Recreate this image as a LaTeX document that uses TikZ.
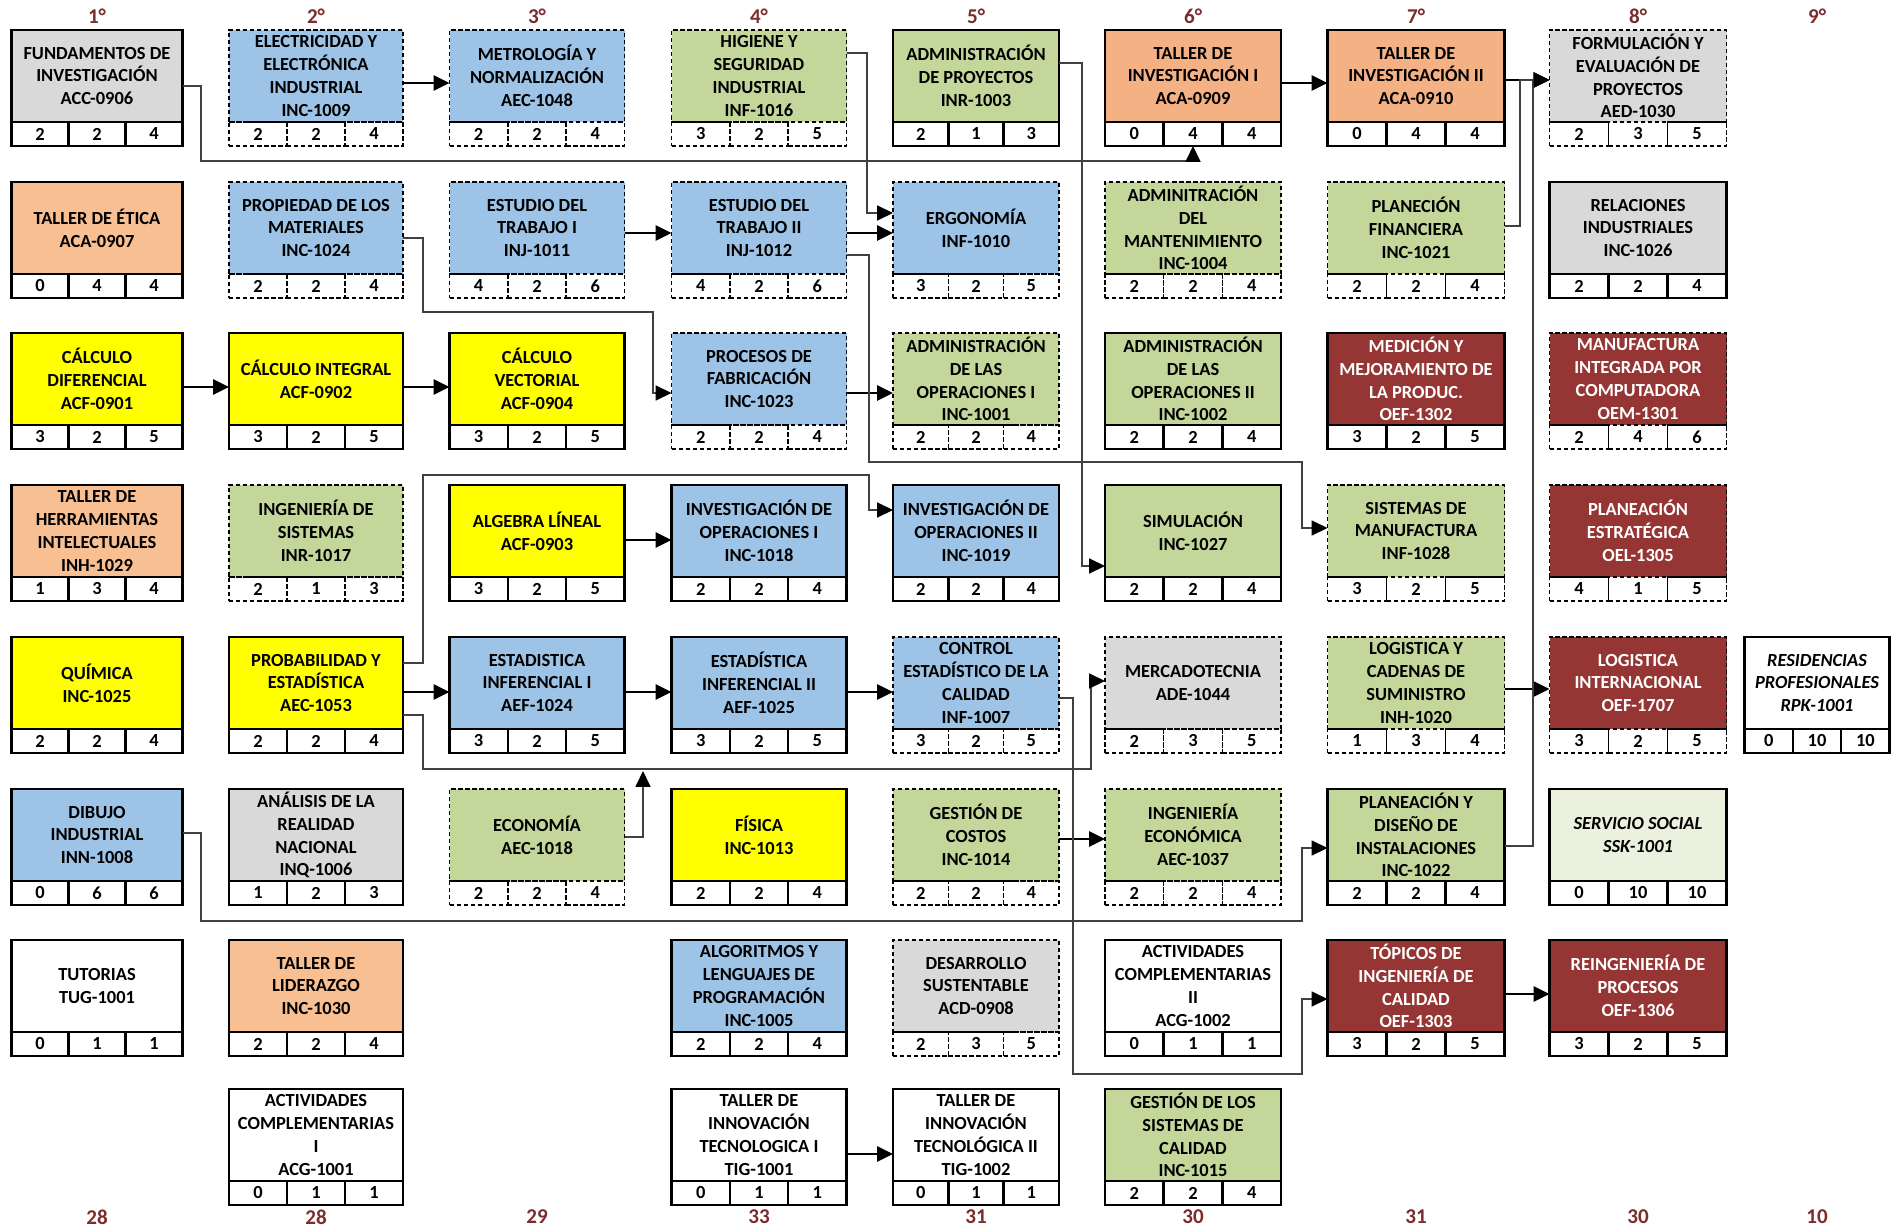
\documentclass[tikz,border=0pt]{standalone}
\usepackage{fontspec}
\setmainfont{Carlito}
\usetikzlibrary{arrows.meta}

\definecolor{cgris}{HTML}{D9D9D9}
\definecolor{cazul}{HTML}{9DC3E6}
\definecolor{cverde}{HTML}{C4D79B}
\definecolor{cverdeclaro}{HTML}{EBF1DE}
\definecolor{camarillo}{HTML}{FFFF00}
\definecolor{cnaranja}{HTML}{F4B183}
\definecolor{csalmon}{HTML}{F8BF93}
\definecolor{crojo}{HTML}{963634}
\definecolor{cguinda}{HTML}{7B2D2D}

\tikzset{
  titulo/.style={draw, outer sep=0pt, inner sep=1pt, align=center,
    font=\bfseries\fontsize{10.5}{13}\selectfont, minimum height=1.84cm},
  credito/.style={draw, outer sep=0pt, inner sep=0pt,
    font=\bfseries\fontsize{10.5}{13}\selectfont, minimum height=0.48cm},
  solido/.style={line width=1.4pt},
  punteado/.style={line width=0.8pt, dash pattern=on 2.5pt off 1.5pt},
  gris/.style={fill=cgris},
  azul/.style={fill=cazul},
  verde/.style={fill=cverde},
  verdeclaro/.style={fill=cverdeclaro},
  amarillo/.style={fill=camarillo},
  naranja/.style={fill=cnaranja},
  salmon/.style={fill=csalmon},
  rojo/.style={fill=crojo, text=white},
  blanco/.style={fill=white},
  cursiva/.style={font=\bfseries\itshape\fontsize{10.5}{13}\selectfont},
  flecha/.style={line width=1.6pt, -{Triangle[length=9pt,width=8.5pt]}},
  conector/.style={line width=0.8pt, draw=black!75, -{Triangle[length=9pt,width=8.5pt,color=black]}},
  semestre/.style={font=\bfseries\fontsize{12}{14}\selectfont, text=cguinda},
}

% #1 nombre, #2 x, #3 y (arriba), #4 estilo, #5 borde, #6 texto, #7-#9 creditos
\newcommand{\materia}[9]{%
  \node[titulo,#5,#4,minimum width=\bw*0.02cm] (#1) at (#2,#3+46) {#6};
  \node[credito,#5,minimum width=\bw*0.02cm/3,anchor=north west] (#1a) at (#1.south west) {#7};
  \node[credito,#5,minimum width=\bw*0.02cm/3,anchor=north west] (#1b) at (#1a.north east) {#8};
  \node[credito,#5,minimum width=\bw*0.02cm/3,anchor=north west] (#1c) at (#1b.north east) {#9};
}

\begin{document}
\begin{tikzpicture}[x=0.02cm,y=-0.02cm]
  \useasboundingbox[fill=white] (0,0) rectangle (1896,1230);

  % semestres
  \node[semestre] (s1) at (97,16) {1°};
  \node[semestre] (s2) at (316,16) {2°};
  \node[semestre] (s3) at (537,16) {3°};
  \node[semestre] (s4) at (759,16) {4°};
  \node[semestre] (s5) at (976,16) {5°};
  \node[semestre] (s6) at (1193,16) {6°};
  \node[semestre] (s7) at (1416,16) {7°};
  \node[semestre] (s8) at (1638,16) {8°};
  \node[semestre] (s9) at (1817,16) {9°};

  % semestre 1
  \def\bw{171}
  \materia{fundinv}{97}{30}{gris}{solido}{FUNDAMENTOS DE\\INVESTIGACIÓN\\ACC-0906}{2}{2}{4}
  \materia{etica}{97}{182}{salmon}{solido}{TALLER DE ÉTICA\\ACA-0907}{0}{4}{4}
  \materia{calcdif}{97}{333}{amarillo}{solido}{CÁLCULO\\DIFERENCIAL\\ACF-0901}{3}{2}{5}
  \materia{herram}{97}{485}{salmon}{solido}{TALLER DE\\HERRAMIENTAS\\INTELECTUALES\\INH-1029}{1}{3}{4}
  \materia{quimica}{97}{637}{amarillo}{solido}{QUÍMICA\\INC-1025}{2}{2}{4}
  \materia{dibujo}{97}{789}{azul}{solido}{DIBUJO\\INDUSTRIAL\\INN-1008}{0}{6}{6}
  \materia{tutorias}{97}{940}{blanco}{solido}{TUTORIAS\\TUG-1001}{0}{1}{1}

  % semestre 2
  \def\bw{174}
  \materia{electr}{316}{30}{azul}{punteado}{ELECTRICIDAD Y\\ELECTRÓNICA\\INDUSTRIAL\\INC-1009}{2}{2}{4}
  \materia{propmat}{316}{182}{azul}{punteado}{PROPIEDAD DE LOS\\MATERIALES\\INC-1024}{2}{2}{4}
  \materia{calcint}{316}{333}{amarillo}{solido}{CÁLCULO INTEGRAL\\ACF-0902}{3}{2}{5}
  \materia{ingsis}{316}{485}{verde}{punteado}{INGENIERÍA DE\\SISTEMAS\\INR-1017}{2}{1}{3}
  \materia{probest}{316}{637}{amarillo}{solido}{PROBABILIDAD Y\\ESTADÍSTICA\\AEC-1053}{2}{2}{4}
  \materia{analisis}{316}{789}{gris}{solido}{ANÁLISIS DE LA\\REALIDAD\\NACIONAL\\INQ-1006}{1}{2}{3}
  \materia{liderazgo}{316}{940}{salmon}{solido}{TALLER DE\\LIDERAZGO\\INC-1030}{2}{2}{4}
  \materia{actcompi}{316}{1089}{blanco}{solido}{ACTIVIDADES\\COMPLEMENTARIAS\\I\\ACG-1001}{0}{1}{1}

  % semestre 3
  \def\bw{175}
  \materia{metrol}{537}{30}{azul}{punteado}{METROLOGÍA Y\\NORMALIZACIÓN\\AEC-1048}{2}{2}{4}
  \materia{estudioi}{537}{182}{azul}{punteado}{ESTUDIO DEL\\TRABAJO I\\INJ-1011}{4}{2}{6}
  \materia{calcvect}{537}{333}{amarillo}{solido}{CÁLCULO\\VECTORIAL\\ACF-0904}{3}{2}{5}
  \materia{algebra}{537}{485}{amarillo}{solido}{ALGEBRA LÍNEAL\\ACF-0903}{3}{2}{5}
  \materia{estinfi}{537}{637}{azul}{solido}{ESTADISTICA\\INFERENCIAL I\\AEF-1024}{3}{2}{5}
  \materia{economia}{537}{789}{verde}{punteado}{ECONOMÍA\\AEC-1018}{2}{2}{4}

  % semestre 4
  \materia{higiene}{759}{30}{verde}{punteado}{HIGIENE Y\\SEGURIDAD\\INDUSTRIAL\\INF-1016}{3}{2}{5}
  \materia{estudioii}{759}{182}{azul}{punteado}{ESTUDIO DEL\\TRABAJO II\\INJ-1012}{4}{2}{6}
  \materia{procfab}{759}{333}{azul}{punteado}{PROCESOS DE\\FABRICACIÓN\\INC-1023}{2}{2}{4}
  \materia{invopi}{759}{485}{azul}{solido}{INVESTIGACIÓN DE\\OPERACIONES I\\INC-1018}{2}{2}{4}
  \materia{estinfii}{759}{637}{azul}{solido}{ESTADÍSTICA\\INFERENCIAL II\\AEF-1025}{3}{2}{5}
  \materia{fisica}{759}{789}{amarillo}{solido}{FÍSICA\\INC-1013}{2}{2}{4}
  \materia{algoritmos}{759}{940}{azul}{solido}{ALGORITMOS Y\\LENGUAJES DE\\PROGRAMACIÓN\\INC-1005}{2}{2}{4}
  \materia{tinnovi}{759}{1089}{blanco}{solido}{TALLER DE\\INNOVACIÓN\\TECNOLOGICA I\\TIG-1001}{0}{1}{1}

  % semestre 5
  \def\bw{166}
  \materia{admproy}{976}{30}{verde}{solido}{ADMINISTRACIÓN\\DE PROYECTOS\\INR-1003}{2}{1}{3}
  \materia{ergo}{976}{182}{azul}{punteado}{ERGONOMÍA\\INF-1010}{3}{2}{5}
  \materia{adopi}{976}{333}{verde}{punteado}{ADMINISTRACIÓN\\DE LAS\\OPERACIONES I\\INC-1001}{2}{2}{4}
  \materia{invopii}{976}{485}{azul}{solido}{INVESTIGACIÓN DE\\OPERACIONES II\\INC-1019}{2}{2}{4}
  \materia{control}{976}{637}{azul}{punteado}{CONTROL\\ESTADÍSTICO DE LA\\CALIDAD\\INF-1007}{3}{2}{5}
  \materia{costos}{976}{789}{verde}{punteado}{GESTIÓN DE\\COSTOS\\INC-1014}{2}{2}{4}
  \materia{dessus}{976}{940}{gris}{punteado}{DESARROLLO\\SUSTENTABLE\\ACD-0908}{2}{3}{5}
  \materia{tinnovii}{976}{1089}{blanco}{solido}{TALLER DE\\INNOVACIÓN\\TECNOLÓGICA II\\TIG-1002}{0}{1}{1}

  % semestre 6
  \def\bw{176}
  \materia{tinvi}{1193}{30}{naranja}{solido}{TALLER DE\\INVESTIGACIÓN I\\ACA-0909}{0}{4}{4}
  \materia{mant}{1193}{182}{verde}{punteado}{ADMINITRACIÓN\\DEL\\MANTENIMIENTO\\INC-1004}{2}{2}{4}
  \materia{adopii}{1193}{333}{verde}{solido}{ADMINISTRACIÓN\\DE LAS\\OPERACIONES II\\INC-1002}{2}{2}{4}
  \materia{simul}{1193}{485}{verde}{solido}{SIMULACIÓN\\INC-1027}{2}{2}{4}
  \materia{mercado}{1193}{637}{gris}{punteado}{MERCADOTECNIA\\ADE-1044}{2}{3}{5}
  \materia{ingeco}{1193}{789}{verde}{punteado}{INGENIERÍA\\ECONÓMICA\\AEC-1037}{2}{2}{4}
  \materia{actcompii}{1193}{940}{blanco}{solido}{ACTIVIDADES\\COMPLEMENTARIAS\\II\\ACG-1002}{0}{1}{1}
  \materia{gestcal}{1193}{1089}{verde}{solido}{GESTIÓN DE LOS\\SISTEMAS DE\\CALIDAD\\INC-1015}{2}{2}{4}

  % semestre 7
  \def\bw{177}
  \materia{tinvii}{1416}{30}{naranja}{solido}{TALLER DE\\INVESTIGACIÓN II\\ACA-0910}{0}{4}{4}
  \materia{planfin}{1416}{182}{verde}{punteado}{PLANECIÓN\\FINANCIERA\\INC-1021}{2}{2}{4}
  \materia{medicion}{1416}{333}{rojo}{solido}{MEDICIÓN Y\\MEJORAMIENTO DE\\LA PRODUC.\\OEF-1302}{3}{2}{5}
  \materia{sisman}{1416}{485}{verde}{punteado}{SISTEMAS DE\\MANUFACTURA\\INF-1028}{3}{2}{5}
  \materia{logcad}{1416}{637}{verde}{punteado}{LOGISTICA Y\\CADENAS DE\\SUMINISTRO\\INH-1020}{1}{3}{4}
  \materia{plandis}{1416}{789}{verde}{solido}{PLANEACIÓN Y\\DISEÑO DE\\INSTALACIONES\\INC-1022}{2}{2}{4}
  \materia{topicos}{1416}{940}{rojo}{solido}{TÓPICOS DE\\INGENIERÍA DE\\CALIDAD\\OEF-1303}{3}{2}{5}

  % semestre 8
  \materia{formeval}{1638}{30}{gris}{punteado}{FORMULACIÓN Y\\EVALUACIÓN DE\\PROYECTOS\\AED-1030}{2}{3}{5}
  \materia{relind}{1638}{182}{gris}{solido}{RELACIONES\\INDUSTRIALES\\INC-1026}{2}{2}{4}
  \materia{manuf}{1638}{333}{rojo}{punteado}{MANUFACTURA\\INTEGRADA POR\\COMPUTADORA\\OEM-1301}{2}{4}{6}
  \materia{planest}{1638}{485}{rojo}{punteado}{PLANEACIÓN\\ESTRATÉGICA\\OEL-1305}{4}{1}{5}
  \materia{logint}{1638}{637}{rojo}{punteado}{LOGISTICA\\INTERNACIONAL\\OEF-1707}{3}{2}{5}
  \materia{servsoc}{1638}{789}{verdeclaro,cursiva}{solido}{SERVICIO SOCIAL\\SSK-1001}{0}{10}{10}
  \materia{reing}{1638}{940}{rojo}{solido}{REINGENIERÍA DE\\PROCESOS\\OEF-1306}{3}{2}{5}

  % semestre 9
  \def\bw{145}
  \materia{resid}{1817}{637}{blanco,cursiva}{solido}{RESIDENCIAS\\PROFESIONALES\\RPK-1001}{0}{10}{10}

  % creditos por semestre
  \node[semestre] (t1) at (97,1217) {28};
  \node[semestre] (t2) at (316,1217) {28};
  \node[semestre] (t3) at (537,1217) {29};
  \node[semestre] (t4) at (759,1217) {33};
  \node[semestre] (t5) at (976,1217) {31};
  \node[semestre] (t6) at (1193,1217) {30};
  \node[semestre] (t7) at (1416,1217) {31};
  \node[semestre] (t8) at (1638,1217) {30};
  \node[semestre] (t9) at (1817,1217) {10};

  % seriaciones directas
  \draw[flecha] (electr.east |- 0,83) -- (metrol.west |- 0,83);
  \draw[flecha] (tinvi.east |- 0,83) -- (tinvii.west |- 0,83);
  \draw[flecha] (tinvii.east |- 0,80) -- (formeval.west |- 0,80);
  \draw[flecha] (estudioi.east |- 0,233) -- (estudioii.west |- 0,233);
  \draw[flecha] (estudioii.east |- 0,233) -- (ergo.west |- 0,233);
  \draw[flecha] (calcdif.east |- 0,387) -- (calcint.west |- 0,387);
  \draw[flecha] (calcint.east |- 0,387) -- (calcvect.west |- 0,387);
  \draw[flecha] (procfab.east |- 0,393) -- (adopi.west |- 0,393);
  \draw[flecha] (algebra.east |- 0,540) -- (invopi.west |- 0,540);
  \draw[flecha] (probest.east |- 0,692) -- (estinfi.west |- 0,692);
  \draw[flecha] (estinfi.east |- 0,692) -- (estinfii.west |- 0,692);
  \draw[flecha] (estinfii.east |- 0,692) -- (control.west |- 0,692);
  \draw[flecha] (logcad.east |- 0,689) -- (logint.west |- 0,689);
  \draw[flecha] (costos.east |- 0,839) -- (ingeco.west |- 0,839);
  \draw[flecha] (topicos.east |- 0,994) -- (reing.west |- 0,994);
  \draw[flecha] (tinnovi.east |- 0,1154) -- (tinnovii.west |- 0,1154);

  % seriaciones con quiebre
  \coordinate (econmerc) at (643,771);
  \draw[conector] (fundinv.east |- 0,86) -- (201,86) -- (201,161) -| (tinvib.south);
  \draw[conector] (higiene.east |- 0,53) -- (867,53) -- (867,213) -- (ergo.west |- 0,213);
  \draw[conector] (admproy.east |- 0,63) -- (1082,63) -- (1082,566) -- (simul.west |- 0,566);
  \draw[conector] (planfin.east |- 0,226) -- (1520,226) -- (1520,80) -- (formeval.west |- 0,80);
  \draw[conector] (plandis.east |- 0,846) -- (1533,846) -- (1533,80) -- (formeval.west |- 0,80);
  \draw[conector] (propmat.east |- 0,238) -- (423,238) -- (423,312) -- (653,312) -- (653,393) -- (procfab.west |- 0,393);
  \draw[conector] (estudioii.east |- 0,255) -- (869,255) -- (869,462) -- (1302,462) -- (1302,528) -- (sisman.west |- 0,528);
  \draw[conector] (probest.east |- 0,663) -- (423,663) -- (423,475) -- (869,475) -- (869,510) -- (invopii.west |- 0,510);
  \draw[conector] (probest.east |- 0,715) -- (423,715) -- (423,769) -- (1091,769) -- (1091,681) -- (mercado.west |- 0,681);
  \draw[conector] (economia.east |- 0,837) -- (643,837) -- (econmerc);
  \draw[conector] (control.east |- 0,698) -- (1073,698) -- (1073,1074) -- (1302,1074) -- (1302,999) -- (topicos.west |- 0,999);
  \draw[conector] (dibujo.east |- 0,833) -- (201,833) -- (201,921) -- (1302,921) -- (1302,848) -- (plandis.west |- 0,848);
\end{tikzpicture}
\end{document}
